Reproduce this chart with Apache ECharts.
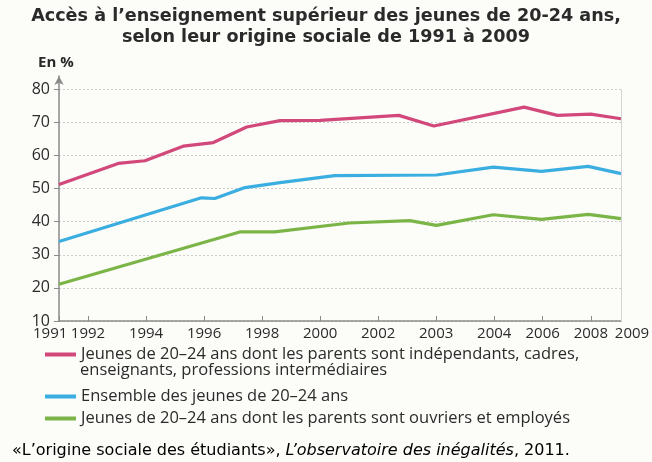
<!DOCTYPE html>
<html><head><meta charset="utf-8">
<script src="https://cdn.jsdelivr.net/npm/echarts@6/dist/echarts.min.js"></script>
<style>html,body{margin:0;padding:0;background:#fcfcf9;}#c{width:652px;height:462px;}</style>
</head><body><div id="c"></div>
<script>
// X axis positions (uneven spacing as in the source) and their labels
const tickPos = [0, 1, 3, 5, 7, 9, 11, 13, 15, 16.67, 18.33, 19.37];
const tickLabels = ['1991','1992','1994','1996','1998','2000','2002','2003','2004','2006','2008','2009'];
const yTicks = [10, 20, 30, 40, 50, 60, 70, 80];

const names = [
  'Jeunes de 20–24 ans dont les parents sont indépendants, cadres, enseignants, professions intermédiaires',
  'Ensemble des jeunes de 20–24 ans',
  'Jeunes de 20–24 ans dont les parents sont ouvriers et employés'
];

const pinkX = [0, 2.04, 2.96, 4.28, 5.32, 6.47, 7.62, 9.0, 11.71, 12.92, 16.03, 17.18, 18.33, 19.37];
const pinkY = [51.2, 57.6, 58.4, 62.8, 63.9, 68.6, 70.5, 70.6, 72.1, 68.9, 74.6, 72.1, 72.5, 71.1];
const blueX = [0, 4.91, 5.37, 6.41, 7.62, 9.5, 13.01, 14.97, 16.63, 18.24, 19.37];
const blueY = [34.0, 47.2, 47.0, 50.3, 51.8, 53.9, 54.1, 56.5, 55.2, 56.7, 54.5];
const greenX = [0, 6.23, 7.44, 10.0, 12.09, 13.01, 14.97, 16.63, 18.24, 19.37];
const greenY = [21.1, 36.9, 36.9, 39.6, 40.3, 38.9, 42.1, 40.7, 42.2, 40.9];

const colors = ['#d2487a', '#3aaee0', '#7cb547'];
const zip = (xs, ys) => xs.map((x, i) => [x, ys[i]]);
const FONT = 'Open Sans';
const TXT = '#2b2b2b';

const chart = echarts.init(document.getElementById('c'));
const legendBase = {
  left: 40, orient: 'vertical', icon: 'rect', itemWidth: 31, itemHeight: 4,
  textStyle: { fontFamily: FONT, fontSize: 16.5, color: TXT },
  selectedMode: false
};
chart.setOption({
  backgroundColor: '#fcfcf9',
  color: colors,
  title: [
    { text: 'Accès à l’enseignement supérieur des jeunes de 20-24 ans,\nselon leur origine sociale de 1991 à 2009',
      left: 'center', top: 1,
      textStyle: { fontFamily: 'DejaVu Sans', fontSize: 17.6, fontWeight: 'bold', color: '#2a2a2a', lineHeight: 21, align: 'center' } },
    { text: 'En %', left: 33, top: 50,
      textStyle: { fontFamily: FONT, fontSize: 15, fontWeight: 'bold', color: '#2a2a2a' } }
  ],
  grid: { left: 59, right: 31, top: 76, bottom: 141, containLabel: false, outerBoundsMode: 'none' },
  xAxis: {
    type: 'value', min: 0, max: 19.37,
    axisLine: { lineStyle: { color: '#8a8a8a', width: 1.5 } },
    axisTick: { customValues: tickPos, inside: true, length: 5, lineStyle: { color: '#8a8a8a' } },
    axisLabel: { customValues: tickPos, margin: 5, fontFamily: FONT, fontSize: 15, color: TXT,
      showMinLabel: true, showMaxLabel: true, hideOverlap: false,
      formatter: v => {
        const i = tickPos.findIndex(p => Math.abs(p - v) < 1e-6);
        if (i < 0) return '';
        if (i === 0) return '{l|' + tickLabels[i] + '}';
        if (i === tickLabels.length - 1) return '{r|' + tickLabels[i] + '}';
        return tickLabels[i];
      },
      rich: {
        l: { fontFamily: FONT, fontSize: 15, color: TXT, width: 52, align: 'left' },
        r: { fontFamily: FONT, fontSize: 15, color: TXT, padding: [0, 0, 0, 22] }
      } },
    splitLine: { show: false }
  },
  yAxis: {
    type: 'value', min: 10, max: 84,
    axisLine: { show: true, symbol: ['none', 'arrow'], symbolSize: [7, 9], lineStyle: { color: '#8a8a8a', width: 1.5 } },
    axisTick: { show: true, customValues: yTicks, length: 5, lineStyle: { color: '#8a8a8a' } },
    axisLabel: { customValues: yTicks, margin: 9, fontFamily: FONT, fontSize: 16, color: TXT },
    splitLine: { show: true, lineStyle: { color: '#cdcdcd', type: [2, 2], width: 1 } }
  },
  legend: [
    Object.assign({}, legendBase, { top: 341, data: [names[0]],
      formatter: () => 'Jeunes de 20–24 ans dont les parents sont indépendants, cadres,' }),
    Object.assign({}, legendBase, { top: 383, data: [names[1]] }),
    Object.assign({}, legendBase, { top: 405, data: [names[2]] })
  ],
  graphic: [
    { type: 'text', left: 80, top: 362,
      style: { text: 'enseignants, professions intermédiaires', font: '16.5px "Open Sans"', fill: TXT } },
    { type: 'text', left: 12, top: 443,
      style: { text: '{n|«L’origine sociale des étudiants», }{i|L’observatoire des inégalités}{n|, 2011.}',
        rich: {
          n: { fontFamily: 'DejaVu Sans', fontSize: 16, color: TXT },
          i: { fontFamily: 'DejaVu Sans', fontSize: 16, fontStyle: 'italic', color: TXT }
        } } }
  ],
  series: [
    { name: names[0], type: 'line', data: zip(pinkX, pinkY), symbol: 'none', lineStyle: { width: 3.2, color: colors[0] } },
    { name: names[1], type: 'line', data: zip(blueX, blueY), symbol: 'none', lineStyle: { width: 3.2, color: colors[1] } },
    { name: names[2], type: 'line', data: zip(greenX, greenY), symbol: 'none', lineStyle: { width: 3.2, color: colors[2] },
      markLine: { silent: true, symbol: 'none', label: { show: false },
        lineStyle: { color: '#d4d4d4', type: 'solid', width: 1 },
        data: [[{ coord: [tickPos[tickPos.length - 1], 10] }, { coord: [tickPos[tickPos.length - 1], 80] }]] } }
  ]
});
</script></body></html>
